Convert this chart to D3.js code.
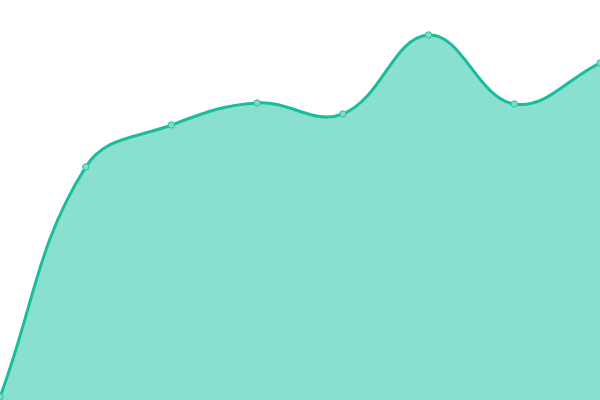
<!DOCTYPE html>
<html><head><meta charset="utf-8">
<script src="https://cdn.jsdelivr.net/npm/d3@7"></script>
<style>html,body{margin:0;padding:0;background:#fff;overflow:hidden}</style>
</head><body>
<svg id="c" width="600" height="400"></svg>
<script>
const categories = [0, 1, 2, 3, 4, 5, 6, 7];
const values = [3, 233, 275, 297, 286, 365, 296, 337];

const W = 600, H = 400;
const svg = d3.select("#c");
const x = d3.scaleLinear().domain([0, categories.length - 1]).range([0, W]);
const y = d3.scaleLinear().domain([0, 400]).range([H, 0]);

// Tension spline curve (control points weighted by neighbour distances)
function SplineCurve(context, t) { this._context = context; this._t = t; }
SplineCurve.prototype = {
  areaStart() { this._line = 0; },
  areaEnd() { this._line = NaN; },
  lineStart() { this._pts = []; },
  point(px, py) { this._pts.push([+px, +py]); },
  lineEnd() {
    const p = this._pts, n = p.length, c = this._context, t = this._t;
    if (n) {
      if (this._line) c.lineTo(p[0][0], p[0][1]); else c.moveTo(p[0][0], p[0][1]);
      if (n === 2 || t === 0) { for (let i = 1; i < n; i++) c.lineTo(p[i][0], p[i][1]); }
      else if (n > 2) {
        const cps = p.map((cur, i) => {
          const prev = p[Math.max(0, i - 1)], next = p[Math.min(n - 1, i + 1)];
          const d01 = Math.hypot(cur[0] - prev[0], cur[1] - prev[1]);
          const d12 = Math.hypot(next[0] - cur[0], next[1] - cur[1]);
          let s01 = d01 / (d01 + d12), s12 = d12 / (d01 + d12);
          if (!isFinite(s01)) s01 = 0; if (!isFinite(s12)) s12 = 0;
          const fa = t * s01, fb = t * s12;
          const dx = next[0] - prev[0], dy = next[1] - prev[1];
          const clampX = v => Math.max(0, Math.min(W, v));
          const clampY = v => Math.max(0, Math.min(H, v));
          return {
            prev: [clampX(cur[0] - fa * dx), clampY(cur[1] - fa * dy)],
            next: [clampX(cur[0] + fb * dx), clampY(cur[1] + fb * dy)]
          };
        });
        for (let i = 1; i < n; i++) {
          c.bezierCurveTo(cps[i - 1].next[0], cps[i - 1].next[1], cps[i].prev[0], cps[i].prev[1], p[i][0], p[i][1]);
        }
      }
    }
    if (this._line || (this._line !== 0 && n === 1)) c.closePath();
    this._line = 1 - this._line;
  }
};
const splineTop = ctx => new SplineCurve(ctx, 0.4);

const data = categories.map((c, i) => ({c, v: values[i]}));
// Area: top via spline, baseline straight
const areaGen = d3.area().x(d => x(d.c)).y0(y(0)).y1(d => y(d.v)).curve(splineTop);

svg.append("path").datum(data)
  .attr("d", areaGen)
  .attr("fill", "#89e0cf");
svg.append("path").datum(data)
  .attr("d", d3.line().x(d => x(d.c)).y(d => y(d.v)).curve(splineTop))
  .attr("fill", "none").attr("stroke", "#1abc9c").attr("stroke-width", 3);
svg.selectAll("circle").data(data).join("circle")
  .attr("cx", d => x(d.c)).attr("cy", d => y(d.v)).attr("r", 3.2)
  .attr("fill", "#7ddbc8").attr("stroke", "#2fc1a3").attr("stroke-width", 1);
</script>
</body></html>
